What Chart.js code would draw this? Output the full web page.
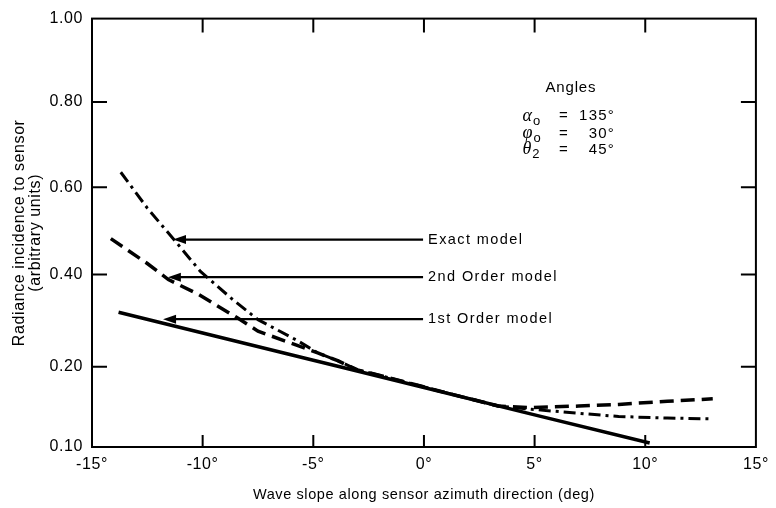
<!DOCTYPE html>
<html>
<head>
<meta charset="utf-8">
<script src="https://cdn.jsdelivr.net/npm/chart.js@4.4.1/dist/chart.umd.min.js"></script>
<style>
  body { margin: 0; background: #fff; }
  canvas { display: block; }
</style>
</head>
<body>
<canvas id="chart" width="776" height="508"></canvas>
<script>
// y ticks are spaced unevenly in the original, so values go through a piecewise map
const yTickValues = [0.1, 0.2, 0.4, 0.6, 0.8, 1.0];
const yTickPos = [0, 81, 174, 262, 348, 432];
const yTickLabels = ['0.10', '0.20', '0.40', '0.60', '0.80', '1.00'];
const xTicks = [-15, -10, -5, 0, 5, 10, 15];

const exactX = [-13.7, -12.5, -11.3, -10.1, -8.7, -7.5, -5.7, -4.8, -3.9, -3.0, -1.85, -0.7, 0.65, 3.35, 4.85, 7.0, 8.8, 11.0, 13.05];
const exactY = [0.635, 0.552, 0.480, 0.407, 0.348, 0.302, 0.256, 0.230, 0.213, 0.196, 0.188, 0.180, 0.170, 0.151, 0.147, 0.142, 0.138, 0.136, 0.135];

const secondX = [-14.15, -12.5, -11.55, -10.2, -8.4, -7.5, -6.3, -4.8, -3.9, -3.0, -1.85, -0.7, 0.65, 3.35, 4.85, 7.0, 8.8, 11.0, 13.05];
const secondY = [0.482, 0.425, 0.389, 0.357, 0.305, 0.277, 0.256, 0.230, 0.213, 0.196, 0.188, 0.180, 0.170, 0.151, 0.149, 0.151, 0.153, 0.157, 0.160];

const firstX = [-13.8, -10, -5, -3.8, 0, 5, 10.2];
const firstY = [0.318, 0.273, 0.214, 0.2, 0.174, 0.140, 0.105];

// arrows: label, tip x, tail x, y
const arrowLabels = ['Exact model', '2nd Order model', '1st Order model'];
const arrowTipX = [-11.34, -11.57, -11.79];
const arrowY = [0.48, 0.394, 0.303];
const arrowTailX = -0.04;

const FONT = '"Liberation Sans", Arial, Helvetica, sans-serif';

function toPos(v) {
	for (let i = 1; i < yTickValues.length; i++) {
		if (v <= yTickValues[i] || i === yTickValues.length - 1) {
			const a = yTickValues[i - 1], b = yTickValues[i];
			return yTickPos[i - 1] + (v - a) / (b - a) * (yTickPos[i] - yTickPos[i - 1]);
		}
	}
}

function pts(xs, ys) {
	return xs.map((x, i) => ({ x: x, y: toPos(ys[i]) }));
}

const framePlugin = {
	id: 'frame',
	beforeDraw(chart) {
		// the scanned lettering is a bit wider than Liberation Sans
		chart.ctx.letterSpacing = '0.6px';
	},
	afterDraw(chart) {
		const ctx = chart.ctx;
		const { left, right, top, bottom } = chart.chartArea;
		const xs = chart.scales.x, ys = chart.scales.y;
		const px = (x) => xs.getPixelForValue(x);
		const py = (v) => ys.getPixelForValue(toPos(v));

		ctx.save();
		ctx.strokeStyle = '#000';
		ctx.fillStyle = '#000';
		ctx.lineWidth = 2;
		ctx.strokeRect(left, top, right - left, bottom - top);

		ctx.beginPath();
		yTickValues.slice(1, -1).forEach((v) => {
			const y = py(v);
			ctx.moveTo(left, y); ctx.lineTo(left + 15, y);
			ctx.moveTo(right, y); ctx.lineTo(right - 15, y);
		});
		xTicks.slice(1, -1).forEach((x) => {
			const X = px(x);
			ctx.moveTo(X, bottom); ctx.lineTo(X, bottom - 12);
			ctx.moveTo(X, top); ctx.lineTo(X, top + 14);
		});
		ctx.stroke();

		// arrows with labels
		ctx.font = '14.5px ' + FONT;
		ctx.letterSpacing = '1.4px';
		ctx.textBaseline = 'middle';
		ctx.textAlign = 'left';
		arrowLabels.forEach((label, i) => {
			const y = py(arrowY[i]);
			const tip = px(arrowTipX[i]);
			const tail = px(arrowTailX);
			ctx.lineWidth = 2.2;
			ctx.beginPath();
			ctx.moveTo(tail, y);
			ctx.lineTo(tip + 10, y);
			ctx.stroke();
			ctx.beginPath();
			ctx.moveTo(tip, y);
			ctx.lineTo(tip + 13, y - 4.5);
			ctx.lineTo(tip + 13, y + 4.5);
			ctx.closePath();
			ctx.fill();
			ctx.fillText(label, tail + 5, y);
		});

		// angle box
		ctx.textAlign = 'center';
		ctx.font = '15px ' + FONT;
		ctx.letterSpacing = '0.8px';
		ctx.fillText('Angles', px(6.64), py(0.833));
		const rows = [['α', 'o', '135°', 0.767], ['φ', 'o', '30°', 0.726], ['θ', '2', '45°', 0.688]];
		rows.forEach(([g, sub, val, v]) => {
			const y = py(v);
			ctx.letterSpacing = '0px';
			ctx.textAlign = 'left';
			ctx.font = 'italic 18px "Liberation Serif", "DejaVu Serif", serif';
			ctx.fillText(g, px(4.45), y);
			const gw = ctx.measureText(g).width;
			ctx.font = '13px ' + FONT;
			ctx.fillText(sub, px(4.45) + gw + 1, y + 5);
			ctx.font = '15px ' + FONT;
			ctx.letterSpacing = '1.2px';
			ctx.textAlign = 'center';
			ctx.fillText('=', px(6.33), y);
			ctx.textAlign = 'right';
			ctx.fillText(val, px(8.63), y);
		});
		ctx.restore();
	},
};

const ctx = document.getElementById('chart').getContext('2d');
const chart = new Chart(ctx, {
	type: 'scatter',
	data: {
		datasets: [
			{
				label: 'Exact model',
				data: pts(exactX, exactY),
				showLine: true,
				borderColor: '#000',
				borderWidth: 3,
				borderDash: [12, 5, 3, 5],
				pointRadius: 0,
				tension: 0,
			},
			{
				label: '2nd Order model',
				data: pts(secondX, secondY),
				showLine: true,
				borderColor: '#000',
				borderWidth: 3.5,
				borderDash: [14, 7],
				pointRadius: 0,
				tension: 0,
			},
			{
				label: '1st Order model',
				data: pts(firstX, firstY),
				showLine: true,
				borderColor: '#000',
				borderWidth: 3.5,
				pointRadius: 0,
				tension: 0,
			},
		],
	},
	options: {
		responsive: false,
		animation: false,
		layout: {
			padding: { left: 0, top: 15, right: 18, bottom: 0 },
		},
		scales: {
			x: {
				type: 'linear',
				min: -15,
				max: 15,
				grid: { display: false, drawTicks: false },
				border: { display: false },
				afterBuildTicks: (scale) => {
					scale.ticks = xTicks.map((v) => ({ value: v }));
				},
				afterFit: (scale) => {
					scale.height = 61;
				},
				ticks: {
					color: '#000',
					padding: 8,
					maxRotation: 0,
					font: { size: 16, family: FONT },
					callback: (v) => v + '°',
				},
				title: {
					display: true,
					text: 'Wave slope along sensor azimuth direction (deg)',
					color: '#000',
					font: { size: 14.5, family: FONT },
					padding: { top: 0, bottom: 4 },
				},
			},
			y: {
				type: 'linear',
				min: 0,
				max: 432,
				grid: { display: false, drawTicks: false },
				border: { display: false },
				afterBuildTicks: (scale) => {
					scale.ticks = yTickPos.map((v) => ({ value: v }));
				},
				afterFit: (scale) => {
					scale.width = 92;
				},
				ticks: {
					color: '#000',
					padding: 9,
					font: { size: 16, family: FONT },
					callback: (v) => yTickLabels[yTickPos.indexOf(v)],
				},
				title: {
					display: true,
					text: ['Radiance incidence to sensor', '(arbitrary units)'],
					color: '#000',
					font: { size: 16, family: FONT, lineHeight: 1.0 },
					padding: { top: 12, bottom: 0 },
				},
			},
		},
		plugins: {
			legend: { display: false },
			tooltip: { enabled: false },
		},
	},
	plugins: [framePlugin],
});
</script>
</body>
</html>
